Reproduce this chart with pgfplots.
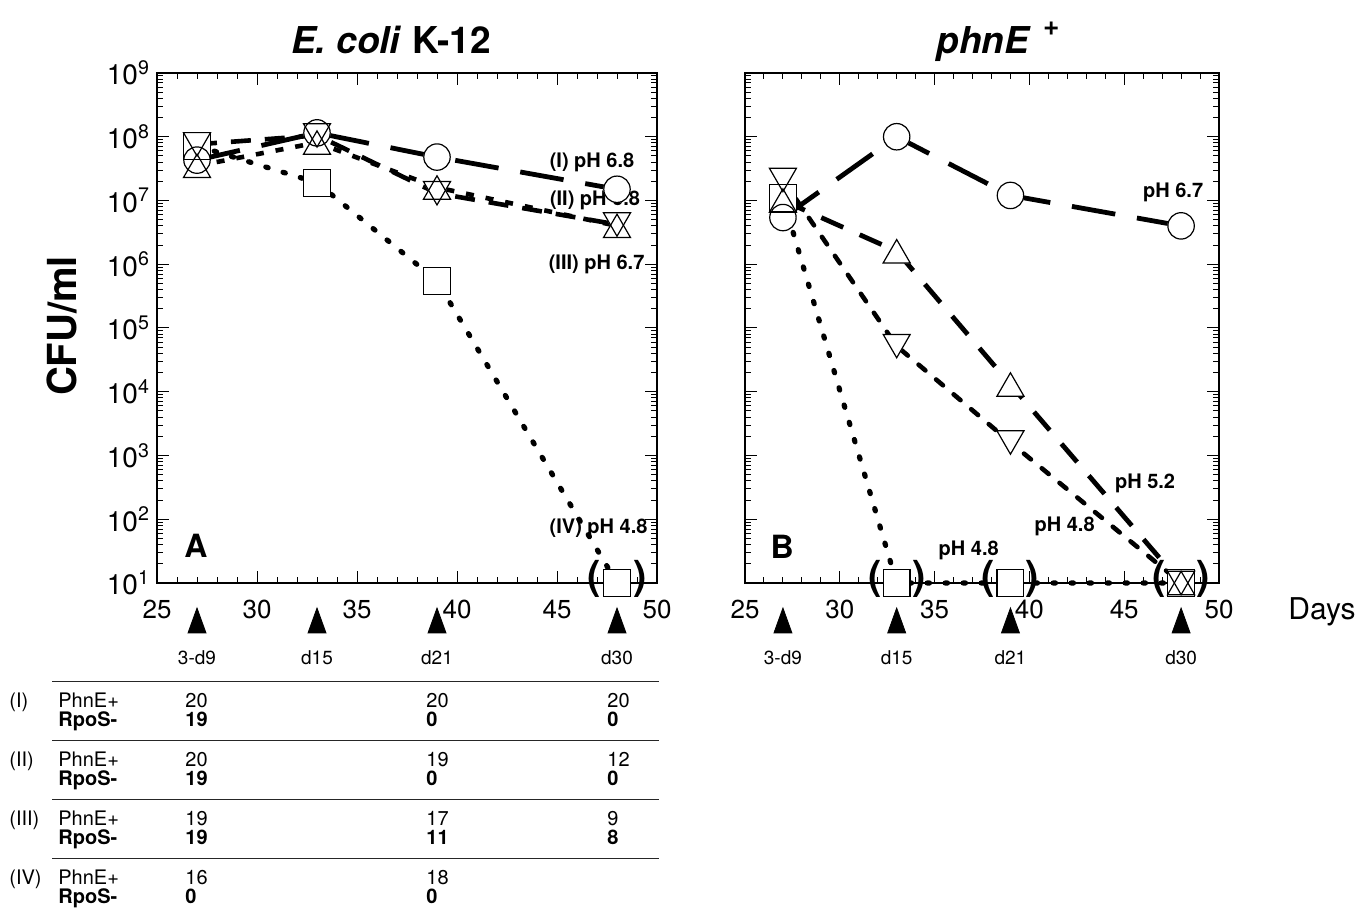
\documentclass[border=0pt]{standalone}
\usepackage{fontspec}
\setmainfont{TeX Gyre Heros}
\usepackage{pgfplots}
\usepackage{pgfplotstable}
\pgfplotsset{compat=1.18}

% Panel A: E. coli K-12
\pgfplotstableread{
x    circ    down    up      sq
27   4.3e7   7.6e7   3.5e7   7.2e7
33   1.15e8  1.05e8  8.1e7   1.9e7
39   4.8e7   1.3e7   1.6e7   5.5e5
48   1.5e7   4.2e6   4.0e6   10
}\dataA
% Panel B: phnE+
\pgfplotstableread{
x    circ    down    up      sq
27   5.4e6   2.1e7   1.0e7   1.1e7
33   1.0e8   5.2e4   1.6e6   10
39   1.2e7   1.6e3   1.3e4   10
48   4.0e6   10      10      10
}\dataB

\tikzset{
  mylI/.style={black, line width=2.4pt, dash pattern=on 22pt off 11pt},
  mylIIa/.style={black, line width=2.3pt, dash pattern=on 10pt off 7pt},
  mylIIIa/.style={black, line width=2.3pt, dash pattern=on 4pt off 6pt},
  mylIIb/.style={black, line width=2.4pt, dash pattern=on 12pt off 9pt},
  mylIIIb/.style={black, line width=2.3pt, dash pattern=on 4.5pt off 7pt, line cap=round},
  mylIV/.style={black, line width=2.6pt, line cap=round, dash pattern=on 1.2pt off 7.8pt},
  mylbl/.style={font=\fontsize{10}{10}\selectfont\bfseries},
  myparen/.style={font=\fontsize{20}{20}\selectfont\bfseries},
  mydaylbl/.style={font=\fontsize{9.5}{9.5}\selectfont},
}

\begin{document}
\begin{tikzpicture}
\useasboundingbox (0,0) rectangle (684pt,-456.5pt);

% ---------------- Panel A ----------------
\begin{axis}[at={(78.5pt,-291.5pt)}, anchor=south west, width=250pt,
    scale only axis, height=255pt, ymode=log,
    xmin=25, xmax=50, ymin=10, ymax=1e9,
    xtick={25,30,35,40,45,50}, minor x tick num=4,
    ytick={1e1,1e2,1e3,1e4,1e5,1e6,1e7,1e8,1e9},
    minor ytick={2e1,3e1,4e1,5e1,6e1,7e1,8e1,9e1,
      2e2,3e2,4e2,5e2,6e2,7e2,8e2,9e2,
      2e3,3e3,4e3,5e3,6e3,7e3,8e3,9e3,
      2e4,3e4,4e4,5e4,6e4,7e4,8e4,9e4,
      2e5,3e5,4e5,5e5,6e5,7e5,8e5,9e5,
      2e6,3e6,4e6,5e6,6e6,7e6,8e6,9e6,
      2e7,3e7,4e7,5e7,6e7,7e7,8e7,9e7,
      2e8,3e8,4e8,5e8,6e8,7e8,8e8,9e8},
    tick align=inside, major tick length=6pt, minor tick length=3pt,
    axis line style={line width=0.8pt},
    tick style={black, line width=0.5pt},
    clip=false,
    xticklabel style={font=\fontsize{13}{13}\selectfont, yshift=-5pt},
    yticklabel style={font=\fontsize{14}{14}\selectfont},
    title style={font=\fontsize{18.5}{20}\selectfont\bfseries, anchor=base, yshift=3.5pt, xshift=-8pt},
  /pgf/number format/assume math mode=true,
  yticklabels={10\textsuperscript{1},10\textsuperscript{2},10\textsuperscript{3},10\textsuperscript{4},10\textsuperscript{5},10\textsuperscript{6},10\textsuperscript{7},10\textsuperscript{8},10\textsuperscript{9}},
  title={\textit{E. coli} K-12}]
\addplot[mylI]    table[x=x,y=circ]{\dataA};
\addplot[mylIIa]  table[x=x,y=down]{\dataA};
\addplot[mylIIIa] table[x=x,y=up]{\dataA};
\addplot[mylIV]   table[x=x,y=sq]{\dataA};
\addplot[only marks, mark=*, mark size=6.6pt, mark options={solid, draw=white, fill=white}] table[x=x,y=circ]{\dataA};
\addplot[only marks, mark=square*, mark size=6.7pt, mark options={solid, draw=white, fill=white}] table[x=x,y=sq]{\dataA};
\addplot[only marks, mark=triangle*, mark size=7.8pt, mark options={solid, yshift=-1.95pt, draw=white, fill=white}] table[x=x,y=up]{\dataA};
\addplot[only marks, mark=triangle*, mark size=7.8pt, mark options={solid, yshift=1.95pt, rotate=180, draw=white, fill=white}] table[x=x,y=down]{\dataA};
\addplot[only marks, mark=o, mark size=6.6pt, mark options={solid, draw=black, line width=0.6pt}] table[x=x,y=circ]{\dataA};
\addplot[only marks, mark=square, mark size=6.7pt, mark options={solid, draw=black, line width=0.6pt}] table[x=x,y=sq]{\dataA};
\addplot[only marks, mark=triangle, mark size=7.8pt, mark options={solid, yshift=-1.95pt, draw=black, line width=0.6pt}] table[x=x,y=up]{\dataA};
\addplot[only marks, mark=triangle, mark size=7.8pt, mark options={solid, yshift=1.95pt, rotate=180, draw=black, line width=0.6pt}] table[x=x,y=down]{\dataA};
\addplot[only marks, mark=triangle*, mark size=5.2pt, mark options={solid, yscale=1.6, fill=black, draw=black}] coordinates {(27,2.22) (33,2.22) (39,2.22) (48,2.22)};
\node[mylbl] at (axis cs:46.75,3.9e7) {(I) pH 6.8};
\node[mylbl] at (axis cs:46.9,1.0e7) {(II) pH 6.8};
\node[mylbl] at (axis cs:46.98,1.0e6) {(III) pH 6.7};
\node[mylbl] at (axis cs:47.08,71) {(IV) pH 4.8};
\node[font=\fontsize{16}{16}\selectfont\bfseries] at (axis cs:26.95,38) {A};
\node[myparen] at ([xshift=-11.5pt,yshift=2pt]axis cs:48,10) {(};
\node[myparen] at ([xshift=11.5pt,yshift=2pt]axis cs:48,10) {)};
\node[mydaylbl] at ([yshift=-37.5pt]axis cs:27,10) {3-d9};
\node[mydaylbl] at ([yshift=-37.5pt]axis cs:33,10) {d15};
\node[mydaylbl] at ([yshift=-37.5pt]axis cs:39,10) {d21};
\node[mydaylbl] at ([yshift=-37.5pt]axis cs:48,10) {d30};
\end{axis}

% ---------------- Panel B ----------------
\begin{axis}[at={(372.5pt,-291.5pt)}, anchor=south west, width=237pt,
    scale only axis, height=255pt, ymode=log,
    xmin=25, xmax=50, ymin=10, ymax=1e9,
    xtick={25,30,35,40,45,50}, minor x tick num=4,
    ytick={1e1,1e2,1e3,1e4,1e5,1e6,1e7,1e8,1e9},
    minor ytick={2e1,3e1,4e1,5e1,6e1,7e1,8e1,9e1,
      2e2,3e2,4e2,5e2,6e2,7e2,8e2,9e2,
      2e3,3e3,4e3,5e3,6e3,7e3,8e3,9e3,
      2e4,3e4,4e4,5e4,6e4,7e4,8e4,9e4,
      2e5,3e5,4e5,5e5,6e5,7e5,8e5,9e5,
      2e6,3e6,4e6,5e6,6e6,7e6,8e6,9e6,
      2e7,3e7,4e7,5e7,6e7,7e7,8e7,9e7,
      2e8,3e8,4e8,5e8,6e8,7e8,8e8,9e8},
    tick align=inside, major tick length=6pt, minor tick length=3pt,
    axis line style={line width=0.8pt},
    tick style={black, line width=0.5pt},
    clip=false,
    xticklabel style={font=\fontsize{13}{13}\selectfont, yshift=-5pt},
    title style={font=\fontsize{18.5}{20}\selectfont\bfseries, anchor=base, yshift=3.5pt, xshift=8pt},
  /pgf/number format/assume math mode=true,
  yticklabels={},
  title={\textit{phnE}\hspace{6pt}\raisebox{9pt}{\fontsize{14}{14}\selectfont\bfseries +}}]
\addplot[mylI]    table[x=x,y=circ]{\dataB};
\addplot[mylIIb]  table[x=x,y=up]{\dataB};
\addplot[mylIIIb] table[x=x,y=down]{\dataB};
\addplot[mylIV]   table[x=x,y=sq]{\dataB};
\addplot[only marks, mark=*, mark size=6.6pt, mark options={solid, draw=white, fill=white}] table[x=x,y=circ]{\dataB};
\addplot[only marks, mark=square*, mark size=6.7pt, mark options={solid, draw=white, fill=white}] table[x=x,y=sq]{\dataB};
\addplot[only marks, mark=triangle*, mark size=7.8pt, mark options={solid, yshift=-1.95pt, draw=white, fill=white}] table[x=x,y=up]{\dataB};
\addplot[only marks, mark=triangle*, mark size=7.8pt, mark options={solid, yshift=1.95pt, rotate=180, draw=white, fill=white}] table[x=x,y=down]{\dataB};
\addplot[only marks, mark=o, mark size=6.6pt, mark options={solid, draw=black, line width=0.6pt}] table[x=x,y=circ]{\dataB};
\addplot[only marks, mark=square, mark size=6.7pt, mark options={solid, draw=black, line width=0.6pt}] table[x=x,y=sq]{\dataB};
\addplot[only marks, mark=triangle, mark size=7.8pt, mark options={solid, yshift=-1.95pt, draw=black, line width=0.6pt}] table[x=x,y=up]{\dataB};
\addplot[only marks, mark=triangle, mark size=7.8pt, mark options={solid, yshift=1.95pt, rotate=180, draw=black, line width=0.6pt}] table[x=x,y=down]{\dataB};
\addplot[only marks, mark=triangle*, mark size=5.2pt, mark options={solid, yscale=1.6, fill=black, draw=black}] coordinates {(27,2.22) (33,2.22) (39,2.22) (48,2.22)};
\node[mylbl] at (axis cs:47.58,1.32e7) {pH 6.7};
\node[mylbl] at (axis cs:46.1,363) {pH 5.2};
\node[mylbl] at (axis cs:41.86,76) {pH 4.8};
\node[mylbl] at (axis cs:36.8,32) {pH 4.8};
\node[font=\fontsize{16}{16}\selectfont\bfseries] at (axis cs:26.96,37) {B};
\node[myparen] at ([xshift=-11pt,yshift=2pt]axis cs:33,10) {(};
\node[myparen] at ([xshift=11pt,yshift=2pt]axis cs:33,10) {)};
\node[myparen] at ([xshift=-11pt,yshift=2pt]axis cs:39,10) {(};
\node[myparen] at ([xshift=11pt,yshift=2pt]axis cs:39,10) {)};
\node[myparen] at ([xshift=-11pt,yshift=2pt]axis cs:48,10) {(};
\node[myparen] at ([xshift=11pt,yshift=2pt]axis cs:48,10) {)};
\node[mydaylbl] at ([yshift=-37.5pt]axis cs:27,10) {3-d9};
\node[mydaylbl] at ([yshift=-37.5pt]axis cs:33,10) {d15};
\node[mydaylbl] at ([yshift=-37.5pt]axis cs:39,10) {d21};
\node[mydaylbl] at ([yshift=-37.5pt]axis cs:48,10) {d30};
\end{axis}

% ---------------- labels and table (image-pixel coordinates) ----------------
\begin{scope}[x=0.5pt,y=-0.5pt]
\node[rotate=90, font=\fontsize{20}{20}\selectfont\bfseries] at (62,326) {CFU/ml};
\node[font=\fontsize{15}{15}\selectfont] at (1322,612) {Days};

\draw[line width=0.5pt, black!85] (52,681) -- (659,681);
\draw[line width=0.5pt, black!85] (52,740) -- (659,740);
\draw[line width=0.5pt, black!85] (52,799) -- (659,799);
\draw[line width=0.5pt, black!85] (52,858) -- (659,858);

\tikzset{tn/.style={anchor=base west, inner sep=0pt, font=\fontsize{10}{10}\selectfont},
         tb/.style={anchor=base west, inner sep=0pt, font=\fontsize{10}{10}\selectfont\bfseries}}
% (I)
\node[tn] at (9,707) {(I)};
\node[tn] at (58,707) {PhnE+};  \node[tb] at (58,726) {RpoS-};
\node[tn] at (185,707) {20};    \node[tb] at (185,726) {19};
\node[tn] at (426,707) {20};    \node[tb] at (426,726) {0};
\node[tn] at (607,707) {20};    \node[tb] at (607,726) {0};
% (II)
\node[tn] at (9,766) {(II)};
\node[tn] at (58,766) {PhnE+};  \node[tb] at (58,785) {RpoS-};
\node[tn] at (185,766) {20};    \node[tb] at (185,785) {19};
\node[tn] at (426,766) {19};    \node[tb] at (426,785) {0};
\node[tn] at (607,766) {12};    \node[tb] at (607,785) {0};
% (III)
\node[tn] at (9,825) {(III)};
\node[tn] at (58,825) {PhnE+};  \node[tb] at (58,844) {RpoS-};
\node[tn] at (185,825) {19};    \node[tb] at (185,844) {19};
\node[tn] at (426,825) {17};    \node[tb] at (426,844) {11};
\node[tn] at (607,825) {9};     \node[tb] at (607,844) {8};
% (IV)
\node[tn] at (9,884) {(IV)};
\node[tn] at (58,884) {PhnE+};  \node[tb] at (58,903) {RpoS-};
\node[tn] at (185,884) {16};    \node[tb] at (185,903) {0};
\node[tn] at (426,884) {18};    \node[tb] at (426,903) {0};
\end{scope}
\end{tikzpicture}
\end{document}
